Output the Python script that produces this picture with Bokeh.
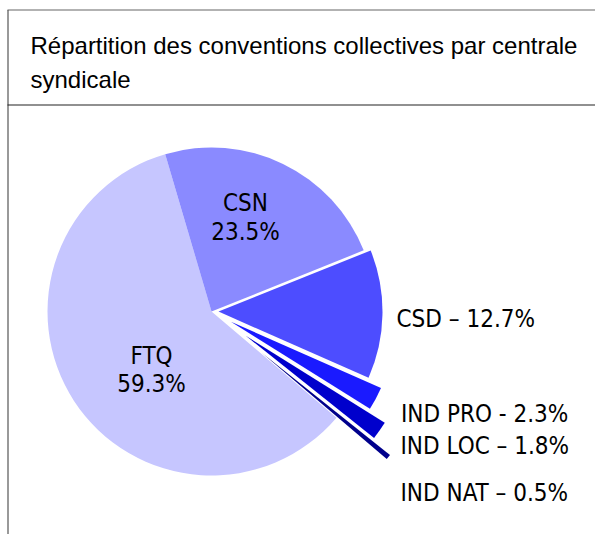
import math
from bokeh.plotting import figure
from bokeh.models import Range1d
from bokeh.core.properties import value
from bokeh.embed import file_html
from bokeh.resources import INLINE

# ---- data ----
categories = ["FTQ", "IND NAT", "IND LOC", "IND PRO", "CSD", "CSN"]
shares = [59.3, 0.5, 1.8, 2.3, 12.7, 23.5]
pct_labels = ["59.3%", "0.5%", "1.8%", "2.3%", "12.7%", "23.5%"]
separators = ["", " – ", " – ", " - ", " – ", ""]
title_lines = ["Répartition des conventions collectives par centrale", "syndicale"]

# ---- styles ----
slice_colors = {"FTQ": "#C6C6FF", "CSN": "#8A8AFF", "CSD": "#4D4DFF",
                "IND PRO": "#1A1AFF", "IND LOC": "#0000CC", "IND NAT": "#00008C"}
explode = {"FTQ": 0, "CSN": 0, "CSD": 7, "IND PRO": 22, "IND LOC": 42, "IND NAT": 65}

W, H = 595, 534
p = figure(width=W, height=H, output_backend="svg", toolbar_location=None,
           x_range=Range1d(0, W), y_range=Range1d(0, H), min_border=0)
p.axis.visible = False
p.grid.visible = False
p.outline_line_color = None
p.background_fill_color = "white"

cx, cy, r = 211, 223, 164
start0 = math.radians(106.4)
total = sum(shares)
a = start0
xs, ys, sa, ea, cols = [], [], [], [], []
for cat, s in zip(categories, shares):
    span = 2 * math.pi * s / total
    mid = a + span / 2
    off = explode[cat]
    xs.append(cx + off * math.cos(mid))
    ys.append(cy + off * math.sin(mid))
    sa.append(a)
    ea.append(a + span)
    cols.append(slice_colors[cat])
    a += span

p.wedge(x=xs, y=ys, radius=r, start_angle=sa, end_angle=ea, direction="anticlock",
        fill_color=cols, line_color=None)

font = value("DejaVu Sans Condensed")
fs = "24px"
# inside labels (two lines)
inside = {"CSN": (245, 331.3, 302.3), "FTQ": (151, 178.3, 151)}
for cat, (lx, y1, y2) in inside.items():
    i = categories.index(cat)
    p.text(x=[lx, lx], y=[y1, y2], text=[cat, pct_labels[i]], text_align="center",
           text_baseline="alphabetic", text_font=font, text_font_size=fs,
           text_color="black")
# outside labels
outside = {"CSD": (396, 216), "IND PRO": (400.5, 121), "IND LOC": (400, 89), "IND NAT": (400, 41.7)}
for cat, (lx, ly) in outside.items():
    i = categories.index(cat)
    p.text(x=[lx], y=[ly], text=[cat + separators[i] + pct_labels[i]], text_align="left",
           text_baseline="alphabetic", text_font=font, text_font_size=fs,
           text_color="black")

# title
p.text(x=[30, 30], y=[489, 455], text=title_lines,
       text_align="left", text_baseline="alphabetic", text_font=value("Liberation Sans"),
       text_font_size="24px", text_color="black")

# frame: top border, left border, title separator
p.segment(x0=[7, 7.5, 7], y0=[524.5, 524.5, 429.5], x1=[W, 7.5, W], y1=[524.5, 0, 429.5],
          line_color=["#666666", "#555555", "#222222"], line_width=1.2)

open("out.html", "w").write(file_html(p, INLINE))
